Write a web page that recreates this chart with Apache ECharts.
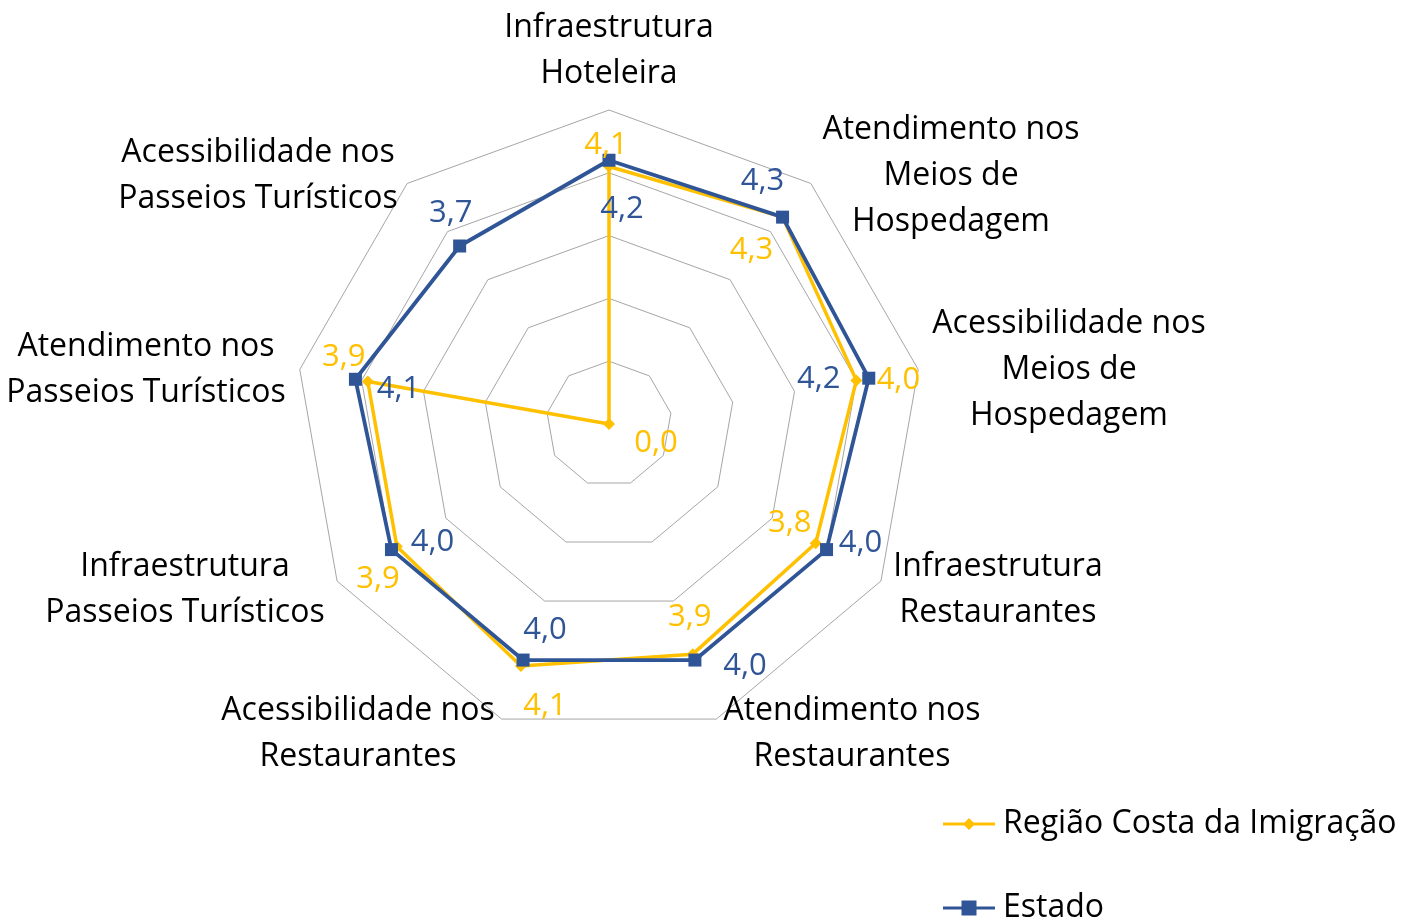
<!DOCTYPE html>
<html>
<head>
<meta charset="utf-8">
<script src="https://cdn.jsdelivr.net/npm/echarts@6/dist/echarts.min.js"></script>
<style>
  html, body { margin: 0; padding: 0; background: #ffffff; }
  #chart { width: 1405px; height: 918px; }
</style>
</head>
<body>
<div id="chart"></div>
<script>
// Evaluated dimensions, listed clockwise starting from the top
const categories = [
  'Infraestrutura\nHoteleira',
  'Atendimento nos\nMeios de\nHospedagem',
  'Acessibilidade nos\nMeios de\nHospedagem',
  'Infraestrutura\nRestaurantes',
  'Atendimento nos\nRestaurantes',
  'Acessibilidade nos\nRestaurantes',
  'Infraestrutura\nPasseios Turísticos',
  'Atendimento nos\nPasseios Turísticos',
  'Acessibilidade nos\nPasseios Turísticos'
];
const seriesNames = ['Região Costa da Imigração', 'Estado'];
const regiaoValues = [4.1, 4.3, 4.0, 3.8, 3.9, 4.1, 3.9, 3.9, 0.0];
const estadoValues = [4.2, 4.3, 4.2, 4.0, 4.0, 4.0, 4.0, 4.1, 3.7];
const scaleMax = 5;

// Layout: centre of each dimension title block
const namePos = [
  [609, 51], [951, 176], [1069, 370], [998, 590], [852, 734],
  [358, 734], [185, 590], [146, 370], [258, 176]
];
// Layout: value label offsets from their point
const regiaoLabelOffset = [
  [-3, -21], [-31, 33], [42, 0], [-26, -20], [-3, -37],
  [24, 40], [-19, 33], [-24, -24], [47, 19]
];
const estadoLabelOffset = [
  [13, 49], [-20, -36], [-50, 1], [34, -6], [50, 6],
  [22, -30], [41, -7], [43, 10], [-9, -33]
];
// Layout: top edge of each legend entry
const legendTops = [808, 892];

const YELLOW = '#FFC000';
const BLUE = '#2F5597';
const FONT = '"Open Sans", "Noto Sans", sans-serif';

// ECharts lays indicators out counter-clockwise; reorder so they run clockwise
const n = categories.length;
const order = categories.map((_, i) => (n - i) % n);
const toRadar = arr => order.map(k => arr[k]);
const indicatorIndexOf = k => order.indexOf(k);

const fmt = v => v.toFixed(1).replace('.', ',');

const legendIcons = [
  'path://M0,4.5 L52,4.5 L52,7.5 L0,7.5 Z M26,0 L32,6 L26,12 L20,6 Z',
  'path://M0,6 L52,6 L52,9 L0,9 Z M18.5,0 L33.5,0 L33.5,15 L18.5,15 Z'
];

const chart = echarts.init(document.getElementById('chart'), null, { renderer: 'canvas' });

chart.setOption({
  animation: false,
  backgroundColor: '#ffffff',
  legend: seriesNames.map((name, i) => ({
    orient: 'vertical',
    left: 943,
    top: legendTops[i],
    padding: 0,
    itemWidth: 52,
    itemHeight: 15,
    symbolKeepAspect: true,
    selectedMode: false,
    textStyle: { fontFamily: FONT, fontSize: 32, color: '#000000', lineHeight: 26, padding: [0, 0, 0, 3] },
    data: [{ name: name, icon: legendIcons[i] }]
  })),
  radar: {
    center: [609, 424],
    radius: 314,
    startAngle: 90,
    splitNumber: 5,
    shape: 'polygon',
    indicator: toRadar(categories).map(name => ({ name: name, min: 0, max: scaleMax })),
    axisName: { show: false },
    axisLine: { show: false },
    axisTick: { show: false },
    axisLabel: { show: false },
    splitArea: { show: false },
    splitLine: { lineStyle: { color: '#A6A6A6', width: 1 } }
  },
  series: [{
    type: 'radar',
    z: 3,
    data: [
      {
        name: seriesNames[0],
        value: toRadar(regiaoValues),
        symbol: 'diamond',
        symbolSize: 12,
        lineStyle: { color: YELLOW, width: 3.5 },
        itemStyle: { color: YELLOW }
      },
      {
        name: seriesNames[1],
        value: toRadar(estadoValues),
        symbol: 'rect',
        symbolSize: 13,
        lineStyle: { color: BLUE, width: 3.8 },
        itemStyle: { color: BLUE }
      }
    ]
  }]
});

// Dimension titles and value labels, placed from the radar coordinate system
const radarCS = chart.getModel().getComponent('radar', 0).coordinateSystem;
const elements = [];

categories.forEach((name, k) => {
  elements.push({
    type: 'text',
    x: namePos[k][0],
    y: namePos[k][1],
    z: 10,
    style: {
      text: name,
      fill: '#000000',
      fontFamily: FONT,
      fontSize: 32,
      lineHeight: 46,
      align: 'center', textAlign: 'center',
      verticalAlign: 'middle', textVerticalAlign: 'middle'
    }
  });
});

function addValueLabels(values, offsets, color) {
  values.forEach((v, k) => {
    const p = radarCS.dataToPoint(v, indicatorIndexOf(k));
    elements.push({
      type: 'text',
      x: p[0] + offsets[k][0],
      y: p[1] + offsets[k][1],
      z: 20,
      style: {
        text: fmt(v),
        fill: color,
        fontFamily: FONT,
        fontSize: 31,
        align: 'center', textAlign: 'center',
        verticalAlign: 'middle', textVerticalAlign: 'middle'
      }
    });
  });
}
addValueLabels(regiaoValues, regiaoLabelOffset, YELLOW);
addValueLabels(estadoValues, estadoLabelOffset, BLUE);

chart.setOption({ graphic: { elements: elements } });
</script>
</body>
</html>
